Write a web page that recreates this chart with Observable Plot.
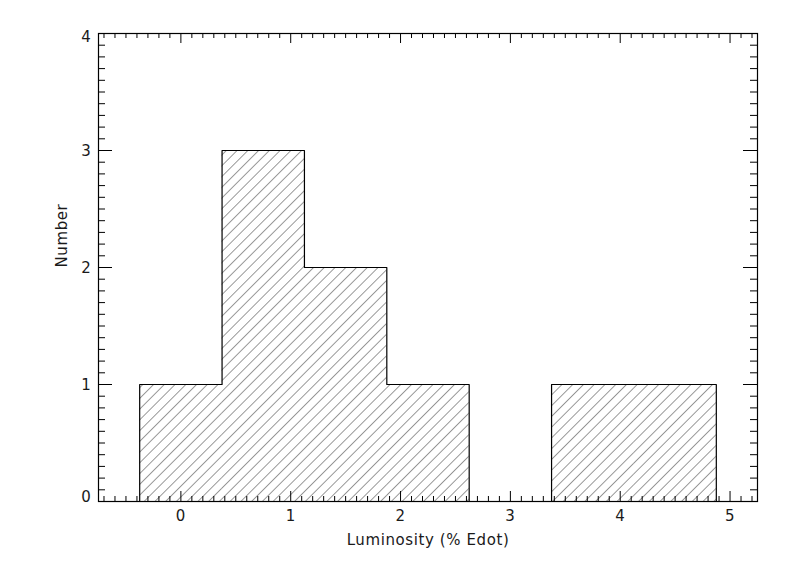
<!DOCTYPE html>
<html>
<head>
<meta charset="utf-8">
<script src="https://cdn.jsdelivr.net/npm/d3@7"></script>
<script src="https://cdn.jsdelivr.net/npm/@observablehq/plot@0.6"></script>
<style>
  html, body { margin: 0; padding: 0; background: white; }
</style>
</head>
<body>
<div id="chart"></div>
<script>
// ---- data ----
const binEdges = [-0.375, 0.375, 1.125, 1.875, 2.625, 3.375, 4.125, 4.875];
const counts = [1, 3, 2, 1, 0, 1, 1];
const xTicks = [0, 1, 2, 3, 4, 5];
const yTicks = [0, 1, 2, 3, 4];
const xLabel = "Luminosity (% Edot)";
const yLabel = "Number";

// minor tick positions (every 0.1)
const xMinor = d3.range(-7, 53).map(i => i / 10).filter(v => !xTicks.includes(v));
const yMinor = d3.range(1, 40).map(i => i / 10).filter(v => !yTicks.includes(v));

const bins = counts.map((c, i) => ({x1: binEdges[i], x2: binEdges[i + 1], count: c}));
const outline = [{x: binEdges[0], y: 0}]
  .concat(counts.map((c, i) => ({x: binEdges[i], y: c})))
  .concat([{x: binEdges[binEdges.length - 1], y: 0}]);

const W = 789, H = 564;
const mt = 33, mb = 63, ml = 98, mr = 32;
const plotW = W - ml - mr, plotH = H - mt - mb;
const font = "DejaVu Sans";
const txt = {fill: "#1a1a1a", fontWeight: "normal"};

const plot = Plot.plot({
  width: W,
  height: H,
  marginTop: mt, marginBottom: mb, marginLeft: ml, marginRight: mr,
  style: {fontFamily: font, fontSize: "15px", letterSpacing: "0.6px", background: "white", color: "black"},
  x: {domain: [-0.75, 5.25], axis: null},
  y: {domain: [0, 4], axis: null},
  marks: [
    Plot.rectY(bins.filter(d => d.count > 0), {x1: "x1", x2: "x2", y: "count", fill: "url(#hatch)"}),
    Plot.line(outline, {x: "x", y: "y", curve: "step-after", stroke: "black", strokeWidth: 1.2}),
    // x ticks bottom & top
    Plot.tickX(xMinor, {x: d => d, insetTop: plotH - 5, stroke: "black"}),
    Plot.tickX(xMinor, {x: d => d, insetBottom: plotH - 5, stroke: "black"}),
    Plot.tickX(xTicks, {x: d => d, insetTop: plotH - 10, stroke: "black"}),
    Plot.tickX(xTicks, {x: d => d, insetBottom: plotH - 10, stroke: "black"}),
    // y ticks left & right
    Plot.tickY(yMinor, {y: d => d, insetRight: plotW - 7, stroke: "black"}),
    Plot.tickY(yMinor, {y: d => d, insetLeft: plotW - 7, stroke: "black"}),
    Plot.tickY(yTicks, {y: d => d, insetRight: plotW - 14, stroke: "black"}),
    Plot.tickY(yTicks, {y: d => d, insetLeft: plotW - 14, stroke: "black"}),
    Plot.frame({stroke: "black", strokeWidth: 1.2}),
    // tick labels
    Plot.text(xTicks, {x: d => d, text: d => String(d), frameAnchor: "bottom", dy: 19, ...txt}),
    Plot.text(yTicks.filter(d => d === 0), {y: d => d, text: d => String(d), frameAnchor: "left", dx: -7, dy: -4, textAnchor: "end", ...txt}),
    Plot.text(yTicks.filter(d => d > 0 && d < 4), {y: d => d, text: d => String(d), frameAnchor: "left", dx: -7, dy: 1, textAnchor: "end", ...txt}),
    Plot.text(yTicks.filter(d => d === 4), {y: d => d, text: d => String(d), frameAnchor: "left", dx: -7, dy: 4, textAnchor: "end", ...txt}),
    // axis titles
    Plot.text([xLabel], {text: d => d, frameAnchor: "bottom", dy: 43, ...txt}),
    Plot.text([yLabel], {text: d => d, frameAnchor: "left", dx: -36, rotate: -90, ...txt})
  ]
});

// hatch pattern
const defs = d3.select(plot).insert("defs", ":first-child");
const pat = defs.append("pattern")
  .attr("id", "hatch")
  .attr("patternUnits", "userSpaceOnUse")
  .attr("width", 7.6)
  .attr("height", 7.6)
  .attr("patternTransform", "rotate(45)");
pat.append("line")
  .attr("x1", 0).attr("y1", -1).attr("x2", 0).attr("y2", 9)
  .attr("stroke", "#333").attr("stroke-width", 1);

document.getElementById("chart").appendChild(plot);
</script>
</body>
</html>
